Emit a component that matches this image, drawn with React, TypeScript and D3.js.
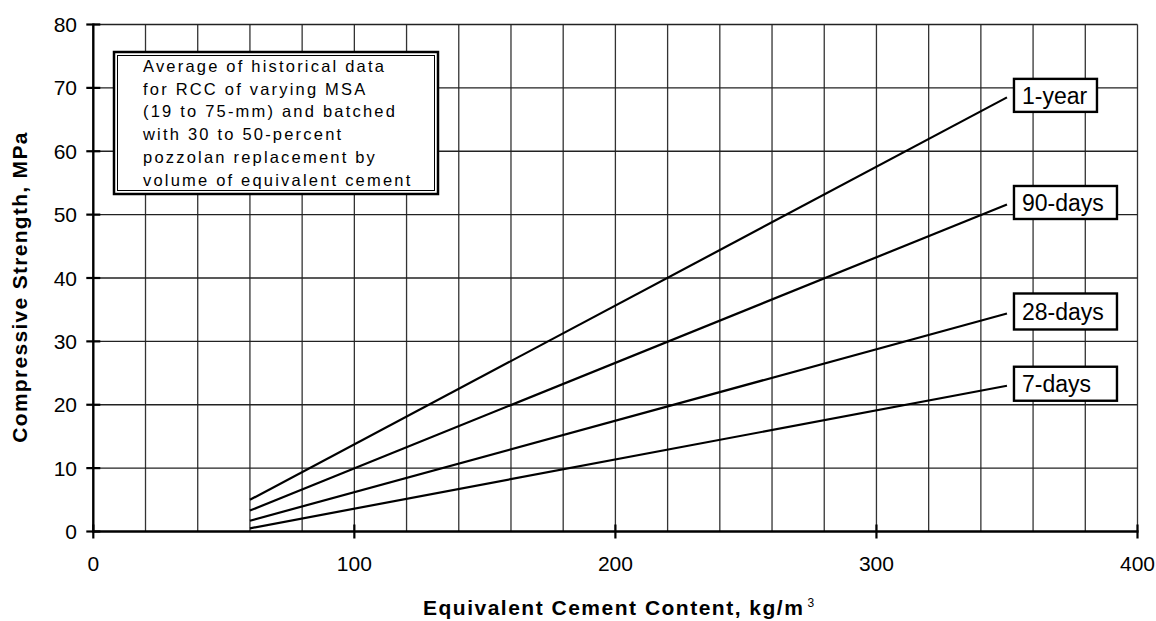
import React from "react";
import * as d3 from "d3";

const seriesNames = ["1-year", "90-days", "28-days", "7-days"];
const xValues = [60, 350];
const oneYear = [5.0, 68.5];
const ninetyDays = [3.3, 51.6];
const twentyEightDays = [1.7, 34.4];
const sevenDays = [0.5, 23.0];
const seriesValues = [oneYear, ninetyDays, twentyEightDays, sevenDays];
const xTicks = [0, 100, 200, 300, 400];
const yTicks = [0, 10, 20, 30, 40, 50, 60, 70, 80];
const xGrid = d3.range(20, 401, 20);
const noteLines = [
  "Average of historical data",
  "for RCC of varying MSA",
  "(19 to 75-mm) and batched",
  "with 30 to 50-percent",
  "pozzolan replacement by",
  "volume of equivalent cement",
];

const W = 1156;
const H = 621;
const x = d3.scaleLinear().domain([0, 400]).range([93.3, 1137.5]);
const y = d3.scaleLinear().domain([0, 80]).range([531.5, 24.5]);

const labelBoxes = [
  { w: 83, h: 33 },
  { w: 103, h: 33 },
  { w: 103, h: 36 },
  { w: 103, h: 34 },
];

export default function App() {
  const line = d3
    .line<number>()
    .x((_, i) => x(xValues[i]))
    .y((d) => y(d));
  const font = "Arial, 'Liberation Sans', sans-serif";
  return (
    <svg
      width={W}
      height={H}
      style={{ position: "absolute", left: 0, top: 0, background: "#fff" }}
      fontFamily={font}
    >
      <rect x={0} y={0} width={W} height={H} fill="#fff" />
      {/* vertical grid */}
      {xGrid.map((v) => (
        <line
          key={"vx" + v}
          x1={x(v)}
          x2={x(v)}
          y1={y(0)}
          y2={y(80)}
          stroke="#333"
          strokeWidth={1.3}
        />
      ))}
      {/* horizontal grid */}
      {yTicks.slice(1).map((v) => (
        <line
          key={"hy" + v}
          x1={x(0)}
          x2={x(400)}
          y1={y(v)}
          y2={y(v)}
          stroke="#222"
          strokeWidth={1.3}
        />
      ))}
      {/* axes */}
      <line x1={x(0)} x2={x(0)} y1={y(0) + 1} y2={y(80) - 1} stroke="#000" strokeWidth={2.4} />
      <line x1={x(0) - 1} x2={x(400) + 1} y1={y(0)} y2={y(0)} stroke="#000" strokeWidth={2.4} />
      {yTicks.map((v) => (
        <g key={"yt" + v}>
          <line x1={x(0) - 7} x2={x(0) + 7} y1={y(v)} y2={y(v)} stroke="#000" strokeWidth={2.2} />
          <text x={77} y={y(v)} dy="0.36em" textAnchor="end" fontSize={21} fill="#000">
            {v}
          </text>
        </g>
      ))}
      {xTicks.map((v) => (
        <g key={"xt" + v}>
          <line x1={x(v)} x2={x(v)} y1={y(0) - 7} y2={y(0) + 7} stroke="#000" strokeWidth={2.2} />
          <text x={x(v)} y={571} textAnchor="middle" fontSize={21} fill="#000">
            {v}
          </text>
        </g>
      ))}
      {/* series lines */}
      {seriesValues.map((s, i) => (
        <path key={"s" + i} d={line(s) || ""} fill="none" stroke="#000" strokeWidth={2.2} />
      ))}
      {/* series labels */}
      {seriesValues.map((s, i) => {
        const endY = y(s[s.length - 1]);
        const b = labelBoxes[i];
        const bx = x(xValues[xValues.length - 1]) + 7;
        const by = endY - b.h / 2 - 2;
        return (
          <g key={"l" + i}>
            <rect x={bx} y={by} width={b.w} height={b.h} fill="#fff" stroke="#000" strokeWidth={2.4} />
            <text x={bx + 8} y={by + b.h / 2} dy="0.36em" fontSize={23} fill="#000">
              {seriesNames[i]}
            </text>
          </g>
        );
      })}
      {/* note box */}
      <rect x={114} y={52} width={324} height={142} fill="#fff" stroke="#000" strokeWidth={2.5} />
      <rect x={117.5} y={55.5} width={317} height={135} fill="none" stroke="#000" strokeWidth={1} />
      {noteLines.map((t, i) => (
        <text
          key={"n" + i}
          x={143}
          y={72 + i * 22.7}
          fontSize={16.5}
          letterSpacing={2.2}
          fill="#000"
        >
          {t}
        </text>
      ))}
      {/* axis titles */}
      <text x={423} y={615} fontSize={21} fontWeight="bold" letterSpacing={1.5} fill="#000">
        Equivalent Cement Content, kg/m
        <tspan dx={3} dy={-8} fontSize={12} fontWeight="normal" letterSpacing={0}>
          3
        </tspan>
      </text>
      <text
        transform={`translate(27,${287}) rotate(-90)`}
        textAnchor="middle"
        fontSize={21}
        fontWeight="bold"
        letterSpacing={1.3}
        fill="#000"
      >
        Compressive Strength, MPa
      </text>
    </svg>
  );
}
